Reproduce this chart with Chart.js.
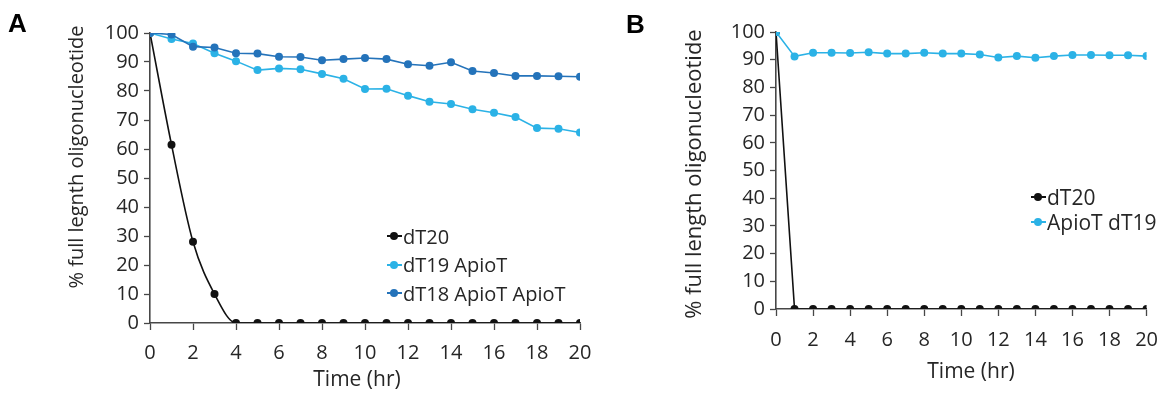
<!DOCTYPE html>
<html>
<head>
<meta charset="utf-8">
<script src="https://cdn.jsdelivr.net/npm/chart.js@4"></script>
<style>
  body { margin: 0; background: #fff; }
  #wrap { position: relative; width: 1170px; height: 394px; font-family: "Open Sans", sans-serif; color: #262626; }
  .panel { position: absolute; top: 0; height: 394px; }
  .tag { position: absolute; font: bold 26px "Liberation Sans", Arial, sans-serif; color: #000; }
  .legend { position: absolute; }
  .legend div { display: flex; align-items: center; white-space: nowrap; }
  .mk { position: relative; display: inline-block; width: 15px; height: 10px; margin-right: 1px; }
  .mk::before { content: ''; position: absolute; left: 0; right: 0; top: 4px; height: 2px; background: var(--c); }
  .mk::after { content: ''; position: absolute; left: 3px; top: 1px; width: 8px; height: 8px; border-radius: 50%; background: var(--c); }
</style>
</head>
<body>
<div id="wrap">
  <div class="panel" style="left:0;width:605px"><canvas id="chartA" width="605" height="394"></canvas></div>
  <div class="panel" style="left:605px;width:565px"><canvas id="chartB" width="565" height="394"></canvas></div>
  <div class="tag" style="left:8px;top:8px">A</div>
  <div class="tag" style="left:626px;top:9px">B</div>
  <div class="legend" id="legendA" style="left:387px;top:222px;font-size:20px"></div>
  <div class="legend" id="legendB" style="left:1031px;top:184px;font-size:21px"></div>
</div>
<script>
// Datos
const hours = [0, 1, 2, 3, 4, 5, 6, 7, 8, 9, 10, 11, 12, 13, 14, 15, 16, 17, 18, 19, 20];

// Panel A
const aLabels = ['dT20', 'dT19 ApioT', 'dT18 ApioT ApioT'];
const aDT20 = [100, 61.5, 28, 10, 0, 0, 0, 0, 0, 0, 0, 0, 0, 0, 0, 0, 0, 0, 0, 0, 0];
const aDT19Apio = [100, 97.9, 96.4, 93, 90.3, 87.2, 87.8, 87.5, 85.9, 84.2, 80.7, 80.8, 78.4, 76.3, 75.5, 73.7, 72.5, 71, 67.2, 67, 65.7];
const aDT18Apio2 = [100, 99.5, 95.3, 95, 93, 92.9, 91.8, 91.7, 90.6, 91, 91.4, 91, 89.2, 88.7, 89.9, 86.9, 86.2, 85.2, 85.2, 85.1, 84.9];

// Panel B
const bLabels = ['dT20', 'ApioT dT19'];
const bDT20 = [100, 0, 0, 0, 0, 0, 0, 0, 0, 0, 0, 0, 0, 0, 0, 0, 0, 0, 0, 0, 0];
const bApioDT19 = [100, 91.2, 92.5, 92.5, 92.4, 92.7, 92.2, 92.2, 92.5, 92.2, 92.2, 91.9, 90.8, 91.3, 90.7, 91.3, 91.7, 91.7, 91.6, 91.6, 91.3];

const yTicks = [0, 10, 20, 30, 40, 50, 60, 70, 80, 90, 100];
const xTicks = [0, 2, 4, 6, 8, 10, 12, 14, 16, 18, 20];

const BLACK = '#111111';
const LIGHT = '#2bb2e6';
const DARK = '#2473ba';
const AXIS = '#474747';
const TEXT = '#262626';

function toPoints(values) {
    return hours.map((h, i) => ({ x: h, y: values[i] }));
}

function makeDataset(label, values, color, order, extra) {
    return Object.assign({
        label: label,
        data: toPoints(values),
        borderColor: color,
        backgroundColor: color,
        borderWidth: 1.6,
        pointRadius: 4,
        pointHoverRadius: 4,
        pointBorderWidth: 0,
        tension: 0,
        order: order
    }, extra || {});
}

// Titulos de los ejes dibujados a mano para poder ubicarlos
const axisTitles = {
    id: 'axisTitles',
    afterDraw(chart, args, opts) {
        const ctx = chart.ctx;
        ctx.save();
        ctx.fillStyle = TEXT;
        ctx.font = opts.size + 'px "Open Sans"';
        ctx.textAlign = 'center';
        ctx.textBaseline = 'middle';
        ctx.fillText(opts.xText, opts.xPos[0], opts.xPos[1]);
        ctx.font = opts.ySize + 'px "Open Sans"';
        ctx.translate(opts.yPos[0], opts.yPos[1]);
        ctx.rotate(-Math.PI / 2);
        ctx.fillText(opts.yText, 0, 0);
        ctx.restore();
    }
};

function createChart(canvasId, datasets, cfg) {
    const ctx = document.getElementById(canvasId).getContext('2d');
    return new Chart(ctx, {
        type: 'line',
        data: { datasets: datasets },
        plugins: [axisTitles],
        options: {
            responsive: false,
            animation: false,
            layout: { padding: { left: 0, right: cfg.padRight, top: cfg.padTop, bottom: 0 } },
            plugins: {
                legend: { display: false },
                tooltip: { enabled: false },
                axisTitles: cfg.titles
            },
            scales: {
                x: {
                    type: 'linear',
                    min: 0,
                    max: 20,
                    afterBuildTicks: (scale) => { scale.ticks = xTicks.map(v => ({ value: v })); },
                    afterFit: (scale) => { scale.height = cfg.xHeight; },
                    ticks: { color: TEXT, font: { family: 'Open Sans', size: cfg.tickSize }, padding: cfg.xPad, maxRotation: 0 },
                    grid: { drawOnChartArea: false, drawTicks: true, tickLength: 7, tickColor: AXIS, tickWidth: 1.3 },
                    border: { display: true, color: AXIS, width: 1.6 }
                },
                y: {
                    min: 0,
                    max: 100,
                    afterBuildTicks: (scale) => { scale.ticks = yTicks.map(v => ({ value: v })); },
                    afterFit: (scale) => { scale.width = cfg.yWidth; },
                    ticks: { color: TEXT, font: { family: 'Open Sans', size: cfg.tickSize }, padding: 5 },
                    grid: { drawOnChartArea: false, drawTicks: true, tickLength: 6, tickColor: AXIS, tickWidth: 1.3 },
                    border: { display: true, color: AXIS, width: 1.6 }
                }
            }
        }
    });
}

const chartA = createChart('chartA', [
    makeDataset(aLabels[0], aDT20, BLACK, 3, { cubicInterpolationMode: 'monotone' }),
    makeDataset(aLabels[1], aDT19Apio, LIGHT, 2),
    makeDataset(aLabels[2], aDT18Apio2, DARK, 1)
], {
    padRight: 25, padTop: 33, xHeight: 71, yWidth: 150, tickSize: 20, xPad: 11,
    titles: { size: 21, ySize: 20, xText: 'Time (hr)', xPos: [357, 380], yText: '% full legnth oligonucleotide', yPos: [77, 157] }
});

const chartB = createChart('chartB', [
    makeDataset(bLabels[0], bDT20, BLACK, 2),
    makeDataset(bLabels[1], bApioDT19, LIGHT, 1)
], {
    padRight: 16, padTop: 32, xHeight: 85, yWidth: 171, tickSize: 20, xPad: 12,
    titles: { size: 21, ySize: 22, xText: 'Time (hr)', xPos: [366, 372], yText: '% full length oligonucleotide', yPos: [90, 174] }
});

// Leyenda en HTML dentro del area del grafico
function buildLegend(elId, labels, colors, rowHeight) {
    const el = document.getElementById(elId);
    labels.forEach((label, i) => {
        const row = document.createElement('div');
        row.style.height = rowHeight + 'px';
        const mk = document.createElement('span');
        mk.className = 'mk';
        mk.style.setProperty('--c', colors[i]);
        const txt = document.createElement('span');
        txt.textContent = label;
        row.appendChild(mk);
        row.appendChild(txt);
        el.appendChild(row);
    });
}

buildLegend('legendA', aLabels, [BLACK, LIGHT, DARK], 28.5);
buildLegend('legendB', bLabels, [BLACK, LIGHT], 25);
</script>
</body>
</html>
